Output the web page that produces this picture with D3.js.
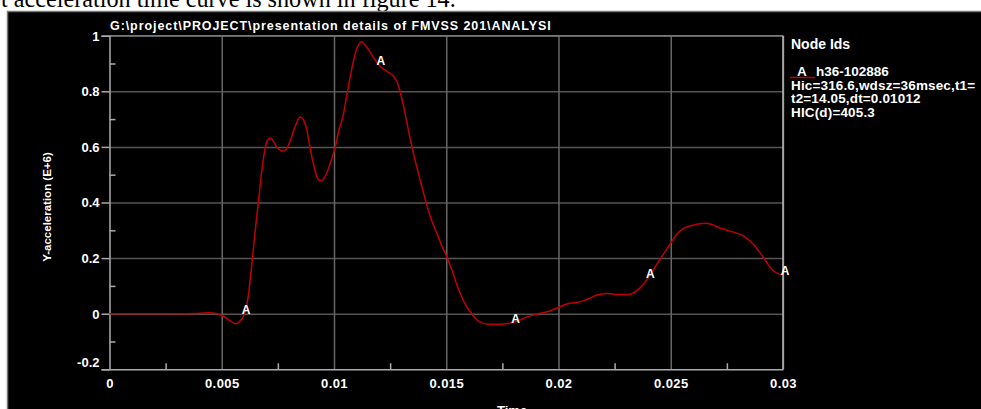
<!DOCTYPE html>
<html>
<head>
<meta charset="utf-8">
<script src="https://cdn.jsdelivr.net/npm/d3@7"></script>
<style>
  html, body { margin: 0; padding: 0; background: #fff; }
  svg { display: block; }
  .lbl { font-family: "Liberation Sans", Arial, sans-serif; font-weight: bold; fill: #fff; }
</style>
</head>
<body>
<svg id="chart" width="981" height="409"></svg>
<script>
// Y-acceleration time history (units E+6) for node h36-102886
const timeValues = [0,0.001,0.002,0.003,0.0038,0.0044,0.0048,0.0051,0.0054,0.00563,0.0058,0.006,0.0061,0.0062,0.00633,0.00648,0.00663,0.00678,0.00693,0.00705,0.00718,0.0073,0.00745,0.00774,0.0079,0.00804,0.0083,0.00849,0.00862,0.00878,0.00893,0.00908,0.00925,0.00938,0.0095,0.00967,0.00985,0.01004,0.01022,0.01041,0.0106,0.01079,0.01101,0.01123,0.01146,0.0116,0.01175,0.0119,0.01205,0.01235,0.01264,0.0128,0.01294,0.01309,0.01324,0.01353,0.01383,0.01413,0.01435,0.01457,0.0148,0.01505,0.01526,0.01547,0.01569,0.01591,0.01614,0.01636,0.0166,0.0168,0.0172,0.01754,0.01778,0.01799,0.0183,0.01858,0.0191,0.01962,0.02007,0.02044,0.0208,0.0211,0.0214,0.0217,0.02215,0.02245,0.02274,0.02318,0.02348,0.02378,0.02408,0.0243,0.02452,0.02497,0.02526,0.02556,0.026,0.02653,0.0268,0.02705,0.02764,0.02823,0.02868,0.02912,0.0295,0.02975,0.03];
const accelValues = [0,0,0,0,0.001,0.003,0.0,-0.01,-0.027,-0.036,-0.028,-0.002,0.025,0.075,0.17,0.29,0.40,0.51,0.595,0.625,0.632,0.62,0.6,0.585,0.595,0.62,0.68,0.708,0.7,0.664,0.6,0.54,0.49,0.478,0.482,0.505,0.545,0.594,0.66,0.714,0.8,0.88,0.952,0.978,0.958,0.943,0.922,0.905,0.89,0.872,0.855,0.835,0.80,0.75,0.69,0.58,0.483,0.392,0.335,0.292,0.245,0.20,0.155,0.104,0.06,0.025,0.0,-0.022,-0.033,-0.037,-0.038,-0.037,-0.035,-0.032,-0.022,-0.012,0.0,0.01,0.025,0.037,0.04,0.046,0.056,0.067,0.073,0.07,0.069,0.07,0.082,0.105,0.14,0.168,0.195,0.25,0.285,0.306,0.318,0.325,0.322,0.313,0.297,0.28,0.25,0.203,0.16,0.145,0.14];

const xTicks = [0, 0.005, 0.01, 0.015, 0.02, 0.025, 0.03];
const xTickLabels = ["0", "0.005", "0.01", "0.015", "0.02", "0.025", "0.03"];
const xMinorTicks = [0.0025, 0.0075, 0.0125, 0.0175, 0.0225, 0.0275];
const yTicks = [-0.2, 0, 0.2, 0.4, 0.6, 0.8, 1];
const yTickLabels = ["-0.2", "0", "0.2", "0.4", "0.6", "0.8", "1"];
const yMinorTicks = [-0.1, 0.1, 0.3, 0.5, 0.7, 0.9];
const markerTimes = [0.006, 0.012, 0.018, 0.024, 0.03];
const markerSymbol = "A";

const titleText = "G:\\project\\PROJECT\\presentation details of FMVSS 201\\ANALYSI";
const yAxisTitle = "Y-acceleration (E+6)";
const xAxisTitle = "Time";
const legendHeader = "Node Ids";
const legendName = "h36-102886";
const legendInfo = ["Hic=316.6,wdsz=36msec,t1=", "t2=14.05,dt=0.01012", "HIC(d)=405.3"];
const captionText = "t acceleration time curve is shown in figure 14.";

const data = timeValues.map((t, i) => ({ t, v: accelValues[i] }));

const svg = d3.select("#chart");
const curveColor = "#c00000";

// caption line of the surrounding document
svg.append("text")
  .attr("x", 1).attr("y", 7)
  .attr("font-family", "'Liberation Serif', 'Times New Roman', serif")
  .attr("font-size", 24.2)
  .attr("fill", "#000")
  .text(captionText);

// black plotting panel
svg.append("rect")
  .attr("x", 7.5).attr("y", 11.5)
  .attr("width", 980).attr("height", 400)
  .attr("fill", "#000")
  .attr("stroke", "#777").attr("stroke-width", 1.5);

const x = d3.scaleLinear().domain([0, 0.03]).range([109.5, 783]);
const y = d3.scaleLinear().domain([-0.2, 1]).range([369.3, 35.7]);
const [x0, x1] = x.range();
const [yb, yt] = y.range();

// grid lines
const gridH = svg.append("g").attr("transform", `translate(${x0},0)`)
  .call(d3.axisRight(y).tickValues(yTicks.filter(v => v > -0.2)).tickSize(x1 - x0).tickFormat(""));
gridH.select(".domain").remove();
gridH.selectAll("line").attr("stroke", "#555").attr("stroke-width", 1.5);

const gridV = svg.append("g").attr("transform", `translate(0,${yb})`)
  .call(d3.axisTop(x).tickValues(xTicks.filter(v => v > 0)).tickSize(yb - yt).tickFormat(""));
gridV.select(".domain").remove();
gridV.selectAll("line").attr("stroke", "#666").attr("stroke-width", 1.5);

// frame: top and right
svg.append("line").attr("x1", x0).attr("x2", x1).attr("y1", yt).attr("y2", yt)
  .attr("stroke", "#777").attr("stroke-width", 1.5);
svg.append("line").attr("x1", x1).attr("x2", x1).attr("y1", yt).attr("y2", yb)
  .attr("stroke", "#bbb").attr("stroke-width", 1.5);

// left axis
const yAxis = svg.append("g").attr("transform", `translate(${x0},0)`)
  .call(d3.axisLeft(y).tickValues(yTicks).tickSize(8).tickPadding(2)
    .tickFormat((d, i) => yTickLabels[i]));
yAxis.select(".domain").attr("stroke", "#aaa").attr("stroke-width", 1.5);
yAxis.selectAll(".tick line").attr("stroke", "#aaa").attr("stroke-width", 1.5);
yAxis.selectAll(".tick text")
  .attr("class", "lbl").attr("font-size", 13)
  .attr("dy", (d) => d === -0.2 ? "-0.22em" : "0.34em");

const yMinor = svg.append("g").attr("transform", `translate(${x0},0)`)
  .call(d3.axisLeft(y).tickValues(yMinorTicks).tickSize(-6).tickFormat(""));
yMinor.select(".domain").remove();
yMinor.selectAll("line").attr("stroke", "#aaa").attr("stroke-width", 1.5);

// bottom axis
const xAxis = svg.append("g").attr("transform", `translate(0,${yb})`)
  .call(d3.axisBottom(x).tickValues(xTicks).tickSize(0).tickPadding(9)
    .tickFormat((d, i) => xTickLabels[i]));
xAxis.select(".domain").attr("stroke", "#aaa").attr("stroke-width", 1.5);
xAxis.selectAll(".tick text").attr("class", "lbl").attr("font-size", 13)
  .attr("letter-spacing", 0.4);

const xMinor = svg.append("g").attr("transform", `translate(0,${yb})`)
  .call(d3.axisBottom(x).tickValues(xMinorTicks).tickSize(-6).tickFormat(""));
xMinor.select(".domain").remove();
xMinor.selectAll("line").attr("stroke", "#aaa").attr("stroke-width", 1.5);

// curve
const line = d3.line().x(d => x(d.t)).y(d => y(d.v)).curve(d3.curveMonotoneX);
svg.append("path").datum(data)
  .attr("fill", "none").attr("stroke", curveColor).attr("stroke-width", 1.5)
  .attr("d", line);

// curve symbols
const bis = d3.bisector(d => d.t).left;
function valueAt(t) {
  const i = Math.min(Math.max(bis(data, t), 1), data.length - 1);
  const a = data[i - 1], b = data[i];
  return a.v + (b.v - a.v) * (t - a.t) / (b.t - a.t);
}
svg.selectAll(".marker").data(markerTimes).join("text")
  .attr("class", "lbl marker")
  .attr("font-size", 12)
  .attr("text-anchor", "middle")
  .attr("x", t => x(t) + 2)
  .attr("y", t => y(valueAt(t)) - 4)
  .attr("dy", "0.35em")
  .text(markerSymbol);

// title
svg.append("text").attr("class", "lbl")
  .attr("x", 110).attr("y", 29.5).attr("font-size", 12.5)
  .attr("letter-spacing", 0.92)
  .text(titleText);

// axis titles
svg.append("text").attr("class", "lbl")
  .attr("transform", "translate(51,207) rotate(-90)")
  .attr("text-anchor", "middle").attr("font-size", 11.5)
  .text(yAxisTitle);
svg.append("text").attr("class", "lbl")
  .attr("x", 497).attr("y", 415).attr("font-size", 13)
  .text(xAxisTitle);

// legend
svg.append("text").attr("class", "lbl")
  .attr("x", 791).attr("y", 48.5).attr("font-size", 14)
  .text(legendHeader);
svg.append("line").attr("x1", 790).attr("x2", 815).attr("y1", 77.5).attr("y2", 77.5)
  .attr("stroke", curveColor).attr("stroke-width", 1.5);
svg.append("text").attr("class", "lbl").attr("x", 797).attr("y", 76).attr("font-size", 13.5)
  .text(markerSymbol);
svg.append("text").attr("class", "lbl").attr("x", 816).attr("y", 76).attr("font-size", 13.5)
  .text(legendName);
svg.selectAll(".info").data(legendInfo).join("text")
  .attr("class", "lbl info")
  .attr("x", 791).attr("y", (d, i) => 89.5 + i * 13.5).attr("font-size", 13.5)
  .attr("letter-spacing", 0.15)
  .text(d => d);
</script>
</body>
</html>
